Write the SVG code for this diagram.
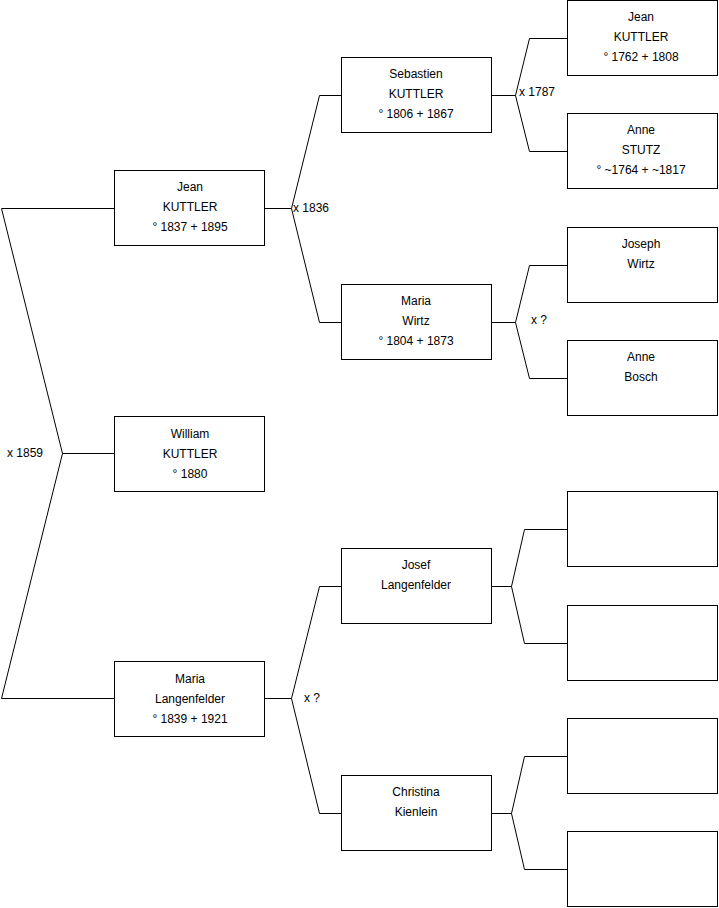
<svg xmlns="http://www.w3.org/2000/svg" width="719" height="908" viewBox="0 0 719 908">
<style>
.box{fill:#fff;stroke:#000;stroke-width:1}
.t{font-family:"Liberation Sans",Arial,sans-serif;font-size:12px;fill:#000;text-anchor:middle}
.l{font-family:"Liberation Sans",Arial,sans-serif;font-size:12px;fill:#000}
.c{fill:none;stroke:#000;stroke-width:1}
</style>
<rect width="719" height="908" fill="#fff"/>
<g id="connectors">
<path class="c" d="M114.5,208.5H1.5L62.5,453.5L1.5,698.5H114.5M62.5,453.5H114.5"/>
<path class="c" d="M265,208.5H291.5L319.5,95.5H341M291.5,208.5L319.5,322.5H341"/>
<path class="c" d="M265,698.5H291.5L319.5,586.5H341M291.5,698.5L319.5,813.5H341"/>
<path class="c" d="M492,95.5H515.5L529.5,38.5H567M515.5,95.5L529.5,151.5H567"/>
<path class="c" d="M492,322.5H515.5L529.5,265.5H567M515.5,322.5L529.5,378.5H567"/>
<path class="c" d="M492,586.5H511.5L524.5,529.5H567M511.5,586.5L524.5,643.5H567"/>
<path class="c" d="M492,813.5H511.5L524.5,756.5H567M511.5,813.5L524.5,869.5H567"/>
<text class="l" x="7" y="457">x 1859</text>
<text class="l" x="293" y="212">x 1836</text>
<text class="l" x="304" y="702">x ?</text>
<text class="l" x="519" y="96">x 1787</text>
<text class="l" x="531" y="324">x ?</text>
</g>
<g id="n-jean-1837"><rect class="box" x="114.5" y="170.5" width="150" height="75"/><text class="t" x="190" y="191">Jean</text><text class="t" x="190" y="211">KUTTLER</text><text class="t" x="190" y="231">° 1837 + 1895</text></g>
<g id="n-william"><rect class="box" x="114.5" y="416.5" width="150" height="75"/><text class="t" x="190" y="438">William</text><text class="t" x="190" y="458">KUTTLER</text><text class="t" x="190" y="478">° 1880</text></g>
<g id="n-maria-langenfelder"><rect class="box" x="114.5" y="661.5" width="150" height="75"/><text class="t" x="190" y="683">Maria</text><text class="t" x="190" y="703">Langenfelder</text><text class="t" x="190" y="723">° 1839 + 1921</text></g>
<g id="n-sebastien"><rect class="box" x="341.5" y="57.5" width="150" height="75"/><text class="t" x="416" y="78">Sebastien</text><text class="t" x="416" y="98">KUTTLER</text><text class="t" x="416" y="118">° 1806 + 1867</text></g>
<g id="n-maria-wirtz"><rect class="box" x="341.5" y="284.5" width="150" height="75"/><text class="t" x="416" y="305">Maria</text><text class="t" x="416" y="325">Wirtz</text><text class="t" x="416" y="345">° 1804 + 1873</text></g>
<g id="n-josef"><rect class="box" x="341.5" y="548.5" width="150" height="75"/><text class="t" x="416" y="569">Josef</text><text class="t" x="416" y="589">Langenfelder</text></g>
<g id="n-christina"><rect class="box" x="341.5" y="775.5" width="150" height="75"/><text class="t" x="416" y="796">Christina</text><text class="t" x="416" y="816">Kienlein</text></g>
<g id="n-jean-1762"><rect class="box" x="567.5" y="0.5" width="150" height="75"/><text class="t" x="641" y="21">Jean</text><text class="t" x="641" y="41">KUTTLER</text><text class="t" x="641" y="61">° 1762 + 1808</text></g>
<g id="n-anne-stutz"><rect class="box" x="567.5" y="113.5" width="150" height="75"/><text class="t" x="641" y="134">Anne</text><text class="t" x="641" y="154">STUTZ</text><text class="t" x="641" y="174">° ~1764 + ~1817</text></g>
<g id="n-joseph-wirtz"><rect class="box" x="567.5" y="227.5" width="150" height="75"/><text class="t" x="641" y="248">Joseph</text><text class="t" x="641" y="268">Wirtz</text></g>
<g id="n-anne-bosch"><rect class="box" x="567.5" y="340.5" width="150" height="75"/><text class="t" x="641" y="361">Anne</text><text class="t" x="641" y="381">Bosch</text></g>
<g id="n-empty-1"><rect class="box" x="567.5" y="491.5" width="150" height="75"/></g>
<g id="n-empty-2"><rect class="box" x="567.5" y="605.5" width="150" height="75"/></g>
<g id="n-empty-3"><rect class="box" x="567.5" y="718.5" width="150" height="75"/></g>
<g id="n-empty-4"><rect class="box" x="567.5" y="831.5" width="150" height="75"/></g>
</svg>
